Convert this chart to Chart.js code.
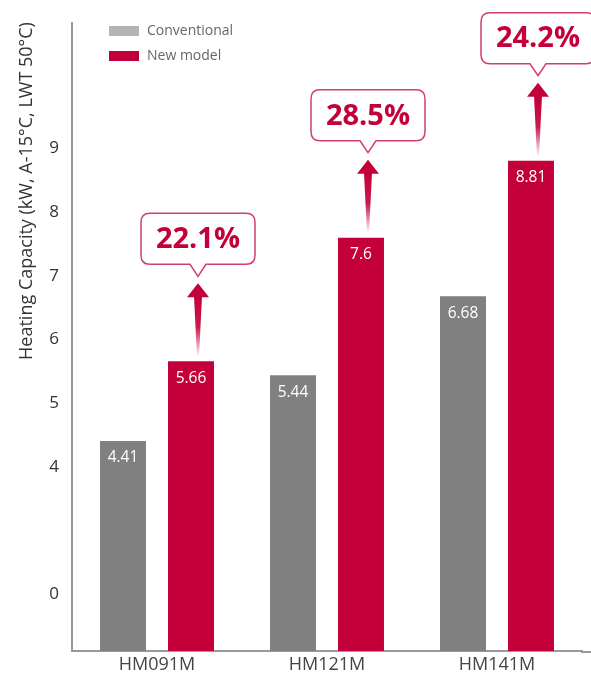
<!DOCTYPE html>
<html>
<head>
<meta charset="utf-8">
<script src="https://cdn.jsdelivr.net/npm/chart.js@4.4.1/dist/chart.umd.min.js"></script>
<style>
  html, body { margin: 0; padding: 0; background: #fff; }
  #wrap { position: relative; width: 591px; height: 679px; }
</style>
</head>
<body>
<div id="wrap"><canvas id="capChart"></canvas></div>
<script>
var models = ['HM091M', 'HM121M', 'HM141M'];
var conventional = [4.41, 5.44, 6.68];
var newModel = [5.66, 7.6, 8.81];
var increase = ['22.1%', '28.5%', '24.2%'];
var tickValues = [0, 4, 5, 6, 7, 8, 9];

// the axis is broken between 0 and 4: that stretch only takes two units of height
function toAxis(v) { return v <= 4 ? v / 2 : v - 2; }
function fromAxis(a) { return a <= 2 ? a * 2 : a + 2; }

var RED = '#c4003a';
var GREY = '#808080';
var FONT = '"Open Sans", "Noto Sans", sans-serif';

var axisMin = -0.89, axisMax = 8.97;

var extras = {
    id: 'extras',
    afterDatasetsDraw: function(chart) {
        var ctx = chart.ctx;
        var area = chart.chartArea;
        ctx.save();

        // x axis line runs on to the edge of the picture
        ctx.strokeStyle = '#999';
        ctx.lineWidth = 2;
        ctx.beginPath();
        ctx.moveTo(area.right - 1, area.bottom + 1);
        ctx.lineTo(chart.width, area.bottom + 1);
        ctx.stroke();

        // values inside the bars
        ctx.fillStyle = '#fff';
        ctx.font = '15.5px ' + FONT;
        ctx.textAlign = 'center';
        ctx.textBaseline = 'middle';
        [conventional, newModel].forEach(function(arr, di) {
            chart.getDatasetMeta(di).data.forEach(function(bar, i) {
                ctx.fillText(String(arr[i]), bar.x, bar.y + 17);
            });
        });

        // arrows and callouts above the new model bars
        chart.getDatasetMeta(1).data.forEach(function(bar, i) {
            var x = bar.x + 7;
            var boxBottom = bar.y - 97;
            var boxTop = boxBottom - 51;
            var tip = boxBottom + 12;
            var headTop = tip + 7;
            var headBase = headTop + 14;
            var shaftEnd = bar.y - 4;

            var g = ctx.createLinearGradient(0, headBase, 0, shaftEnd);
            g.addColorStop(0, RED);
            g.addColorStop(0.5, 'rgba(196,0,58,0.9)');
            g.addColorStop(1, 'rgba(196,0,58,0)');
            ctx.fillStyle = g;
            ctx.beginPath();
            ctx.moveTo(x - 4, headBase - 1);
            ctx.lineTo(x + 4, headBase - 1);
            ctx.lineTo(x + 1, shaftEnd);
            ctx.lineTo(x - 1, shaftEnd);
            ctx.closePath();
            ctx.fill();

            ctx.fillStyle = RED;
            ctx.beginPath();
            ctx.moveTo(x, headTop);
            ctx.lineTo(x + 11, headBase);
            ctx.lineTo(x - 11, headBase);
            ctx.closePath();
            ctx.fill();

            // speech bubble
            var w = 114, r = 9;
            var l = x - w / 2, rt = x + w / 2;
            ctx.beginPath();
            ctx.moveTo(l + r, boxTop);
            ctx.lineTo(rt - r, boxTop);
            ctx.quadraticCurveTo(rt, boxTop, rt, boxTop + r);
            ctx.lineTo(rt, boxBottom - r);
            ctx.quadraticCurveTo(rt, boxBottom, rt - r, boxBottom);
            ctx.lineTo(x + 8, boxBottom);
            ctx.lineTo(x, tip);
            ctx.lineTo(x - 8, boxBottom);
            ctx.lineTo(l + r, boxBottom);
            ctx.quadraticCurveTo(l, boxBottom, l, boxBottom - r);
            ctx.lineTo(l, boxTop + r);
            ctx.quadraticCurveTo(l, boxTop, l + r, boxTop);
            ctx.closePath();
            ctx.fillStyle = '#fff';
            ctx.fill();
            ctx.strokeStyle = '#d2406a';
            ctx.lineWidth = 1.5;
            ctx.stroke();

            ctx.fillStyle = RED;
            ctx.font = 'bold 29px ' + FONT;
            ctx.fillText(increase[i], x, (boxTop + boxBottom) / 2 + 1);
        });

        // legend
        ctx.font = '14px ' + FONT;
        ctx.textAlign = 'left';
        ctx.fillStyle = '#b4b4b4';
        ctx.fillRect(109, 26, 30, 10);
        ctx.fillStyle = RED;
        ctx.fillRect(109, 51, 30, 10);
        ctx.fillStyle = '#666';
        ctx.fillText('Conventional', 147, 31);
        ctx.fillText('New model', 147, 56);

        // y axis title
        ctx.translate(27, 191);
        ctx.rotate(-Math.PI / 2);
        ctx.textAlign = 'center';
        ctx.fillStyle = '#333';
        ctx.font = '18px ' + FONT;
        ctx.fillText('Heating Capacity (kW, A-15\u00B0C, LWT 50\u00B0C)', 0, 0);
        ctx.restore();
    }
};

document.addEventListener('DOMContentLoaded', function() {
    var ctx = document.getElementById('capChart').getContext('2d');
    new Chart(ctx, {
        type: 'bar',
        data: {
            labels: models,
            datasets: [{
                label: 'Conventional',
                data: conventional.map(toAxis),
                backgroundColor: GREY,
                base: axisMin,
                categoryPercentage: 0.8,
                barPercentage: 0.676
            }, {
                label: 'New model',
                data: newModel.map(toAxis),
                backgroundColor: RED,
                base: axisMin,
                categoryPercentage: 0.8,
                barPercentage: 0.676
            }]
        },
        options: {
            responsive: true,
            maintainAspectRatio: false,
            animation: false,
            layout: { padding: { top: 20, right: 9, left: 0, bottom: 0 } },
            plugins: {
                legend: { display: false },
                tooltip: { enabled: false }
            },
            scales: {
                x: {
                    grid: { display: false, drawTicks: false },
                    border: { color: '#999', width: 2 },
                    ticks: { color: '#444', font: { size: 18, family: FONT }, padding: 3 },
                    afterFit: function(s) { s.height = 28; }
                },
                y: {
                    min: axisMin,
                    max: axisMax,
                    grid: { display: false, drawTicks: false },
                    border: { color: '#999', width: 2 },
                    afterBuildTicks: function(s) {
                        s.ticks = tickValues.map(function(v) { return { value: toAxis(v) }; });
                    },
                    ticks: {
                        color: '#333',
                        font: { size: 17, family: FONT },
                        padding: 13,
                        callback: function(v) { return String(Math.round(fromAxis(v))); }
                    },
                    afterFit: function(s) { s.width = 72; }
                }
            }
        },
        plugins: [extras]
    });
});
</script>
</body>
</html>
